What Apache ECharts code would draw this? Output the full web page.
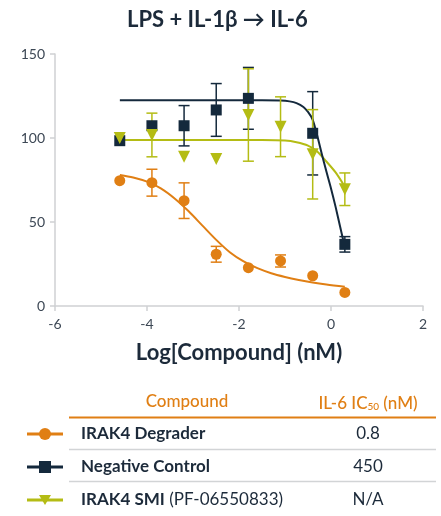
<!DOCTYPE html>
<html>
<head>
<meta charset="utf-8">
<script src="https://cdn.jsdelivr.net/npm/echarts@6/dist/echarts.min.js"></script>
<style>
html,body{margin:0;padding:0;background:#fff;}
#chart{width:441px;height:516px;}
</style>
</head>
<body>
<div id="chart"></div>
<script>
// ---- data ----
const xLog = [-4.592, -3.893, -3.194, -2.495, -1.796, -1.097, -0.398, 0.301];

const degraderMean = [74.6, 73.4, 62.7, 30.8, 22.8, 26.8, 18.0, 8.1];
const degraderErr  = [0, 8, 10.6, 4.7, 0, 3.6, 0, 0];

const negCtrlMean = [98.4, 107.3, 107.3, 116.7, 123.6, null, 102.8, 36.7];
const negCtrlErr  = [0, 0, 12, 15.7, 18.4, 0, 24.8, 4.6];

const smiMean = [100, 101.8, 88.9, 87.5, 113.7, 106.7, 90.3, 69.5];
const smiErr  = [0, 13, 0, 0, 27.5, 17.8, 26.6, 9.7];

// fitted curves
const degraderCurveX = [-4.59, -4.3, -4.0, -3.7, -3.4, -3.1, -2.8, -2.5, -2.2, -1.9, -1.6, -1.3, -1.0, -0.7, -0.4, -0.1, 0.3];
const degraderCurveY = [78, 76.5, 74, 70, 64, 56.5, 48, 39.5, 32, 26.5, 22.5, 19.5, 17.3, 15.5, 14, 12.8, 11.5];

const negCtrlCurveX = [-4.59, -3.5, -2.5, -1.5, -1.1, -0.9, -0.75, -0.6, -0.5, -0.4, -0.3, -0.2, -0.1, 0.0, 0.1, 0.2, 0.3];
const negCtrlCurveY = [122.5, 122.5, 122.5, 122.5, 122.3, 121.8, 120.8, 118.5, 115.5, 111, 101.5, 90.5, 80, 70, 59, 47, 35];

const smiCurveX = [-4.59, -3.5, -2.5, -1.5, -1.0, -0.75, -0.5, -0.3, -0.1, 0.1, 0.3];
const smiCurveY = [98.8, 98.8, 98.8, 98.8, 98.5, 97.5, 95.5, 92, 86, 79.5, 71];

const xTicks = {min: -6, max: 2, interval: 2};
const yTicks = {min: 0, max: 150, interval: 50};

const compoundNames = ['IRAK4 Degrader', 'Negative Control', 'IRAK4 SMI'];
const compoundSuffix = ['', '', ' (PF-06550833)'];
const ic50Values = ['0.8', '450', 'N/A'];

const titleText = 'LPS + IL-1\u03b2 \u2192 IL-6';
const xAxisName = 'Log[Compound] (nM)';
const tableHeader = ['Compound', 'IL-6 IC', '50', ' (nM)'];

// ---- styles ----
const COLORS = ['#E07F14', '#14293C', '#B4BC14'];
const SYMBOLS = ['circle', 'rect', 'triangle'];
const TEXT = '#1c2a3a';
const FONT = 'Lato, "Open Sans", sans-serif';

function pts(xs, ys) { return xs.map((x, i) => [x, ys[i]]).filter(p => p[1] != null); }
function errs(xs, m, e) {
  const out = [];
  xs.forEach((x, i) => { if (m[i] != null && e[i] > 0) out.push([x, m[i] - e[i], m[i] + e[i]]); });
  return out;
}
function errSeries(data, color, z) {
  return {
    type: 'custom', data: data, z: z, silent: true,
    encode: {x: 0, y: [1, 2]},
    renderItem: function (params, api) {
      const x = api.value(0);
      const lo = api.coord([x, api.value(1)]);
      const hi = api.coord([x, api.value(2)]);
      const hw = 5.5;
      const st = {stroke: color, lineWidth: 1.5};
      return {type: 'group', children: [
        {type: 'line', shape: {x1: lo[0], y1: lo[1], x2: hi[0], y2: hi[1]}, style: st},
        {type: 'line', shape: {x1: lo[0] - hw, y1: lo[1], x2: lo[0] + hw, y2: lo[1]}, style: st},
        {type: 'line', shape: {x1: hi[0] - hw, y1: hi[1], x2: hi[0] + hw, y2: hi[1]}, style: st}
      ]};
    }
  };
}
function curveSeries(xs, ys, color, z) {
  return {type: 'line', data: pts(xs, ys), smooth: 0.3, showSymbol: false, silent: true, z: z,
    lineStyle: {color: color, width: 2}};
}
function pointSeries(xs, ys, i, z) {
  return {type: 'scatter', data: pts(xs, ys), symbol: SYMBOLS[i], z: z,
    symbolSize: i === 2 ? 12 : 11, symbolRotate: i === 2 ? 180 : 0,
    itemStyle: {color: COLORS[i], opacity: 1}};
}

const chart = echarts.init(document.getElementById('chart'), null, {renderer: 'canvas'});

// table graphics
const graphics = [];
const rowY = [434, 467, 500];
const TF = 17;
graphics.push({type: 'text', x: 187, y: 402, style: {text: tableHeader[0], fill: COLORS[0], font: '500 ' + TF + 'px ' + FONT, align: 'center', verticalAlign: 'middle'}});
graphics.push({type: 'text', x: 368, y: 402, style: {
  text: '{a|' + tableHeader[1] + '}{s|' + tableHeader[2] + '}{a|' + tableHeader[3] + '}',
  align: 'center', verticalAlign: 'middle',
  rich: {
    a: {fill: COLORS[0], font: '500 ' + TF + 'px ' + FONT, lineHeight: 20, verticalAlign: 'bottom'},
    s: {fill: COLORS[0], font: '500 10px ' + FONT, lineHeight: 14, verticalAlign: 'bottom'}
  }}});
graphics.push({type: 'line', shape: {x1: 69, y1: 417.5, x2: 436, y2: 417.5}, style: {stroke: COLORS[0], lineWidth: 2}});
graphics.push({type: 'line', shape: {x1: 69, y1: 449.5, x2: 436, y2: 449.5}, style: {stroke: '#d2d4d6', lineWidth: 1.5}});
graphics.push({type: 'line', shape: {x1: 69, y1: 481.5, x2: 436, y2: 481.5}, style: {stroke: '#d2d4d6', lineWidth: 1.5}});
compoundNames.forEach((name, i) => {
  const y = rowY[i];
  graphics.push({type: 'line', shape: {x1: 27, y1: y, x2: 63, y2: y}, style: {stroke: COLORS[i], lineWidth: 3}});
  let mk;
  if (i === 0) mk = {type: 'circle', shape: {cx: 45, cy: y, r: 6}, style: {fill: COLORS[i]}};
  else if (i === 1) mk = {type: 'rect', shape: {x: 39, y: y - 6, width: 12, height: 12}, style: {fill: COLORS[i]}};
  else mk = {type: 'polygon', shape: {points: [[39, y - 5], [51, y - 5], [45, y + 5]]}, style: {fill: COLORS[i]}};
  graphics.push(mk);
  graphics.push({type: 'text', x: 81, y: y, style: {
    text: '{b|' + name + '}' + (compoundSuffix[i] ? '{n|' + compoundSuffix[i] + '}' : ''),
    verticalAlign: 'middle', align: 'left',
    rich: {b: {fill: TEXT, font: 'bold ' + TF + 'px ' + FONT}, n: {fill: TEXT, font: TF + 'px ' + FONT}}
  }});
  graphics.push({type: 'text', x: 368, y: y, style: {text: ic50Values[i], fill: TEXT, font: TF + 'px ' + FONT, align: 'center', verticalAlign: 'middle'}});
});

chart.setOption({
  animation: false,
  backgroundColor: '#ffffff',
  title: {text: titleText, left: 122, top: 4,
    textStyle: {color: TEXT, fontFamily: FONT, fontWeight: 'bold', fontSize: 22}},
  grid: {left: 55, right: 18, top: 54, bottom: 210},
  xAxis: {
    type: 'value', min: xTicks.min, max: xTicks.max, interval: xTicks.interval,
    name: xAxisName, nameLocation: 'middle', nameGap: 36,
    nameTextStyle: {color: TEXT, fontFamily: FONT, fontWeight: 'bold', fontSize: 22},
    axisLine: {onZero: false, lineStyle: {color: '#cfd1d3', width: 1.5}},
    axisTick: {show: true, length: 5, lineStyle: {color: '#cfd1d3', width: 1.5}},
    axisLabel: {color: '#3d4855', fontFamily: FONT, fontSize: 14, margin: 11},
    splitLine: {show: false}
  },
  yAxis: {
    type: 'value', min: yTicks.min, max: yTicks.max, interval: yTicks.interval,
    axisLine: {show: true, onZero: false, lineStyle: {color: '#cfd1d3', width: 1.5}},
    axisTick: {show: true, length: 5, lineStyle: {color: '#cfd1d3', width: 1.5}},
    axisLabel: {color: '#3d4855', fontFamily: FONT, fontSize: 14, margin: 10},
    splitLine: {show: false}
  },
  series: [
    curveSeries(degraderCurveX, degraderCurveY, COLORS[0], 2),
    curveSeries(smiCurveX, smiCurveY, COLORS[2], 2),
    curveSeries(negCtrlCurveX, negCtrlCurveY, COLORS[1], 3),
    errSeries(errs(xLog, degraderMean, degraderErr), COLORS[0], 4),
    errSeries(errs(xLog, negCtrlMean, negCtrlErr), COLORS[1], 4),
    errSeries(errs(xLog, smiMean, smiErr), COLORS[2], 4),
    pointSeries(xLog, degraderMean, 0, 5),
    pointSeries(xLog, negCtrlMean, 1, 5),
    pointSeries(xLog, smiMean, 2, 6)
  ],
  graphic: graphics
});
</script>
</body>
</html>
